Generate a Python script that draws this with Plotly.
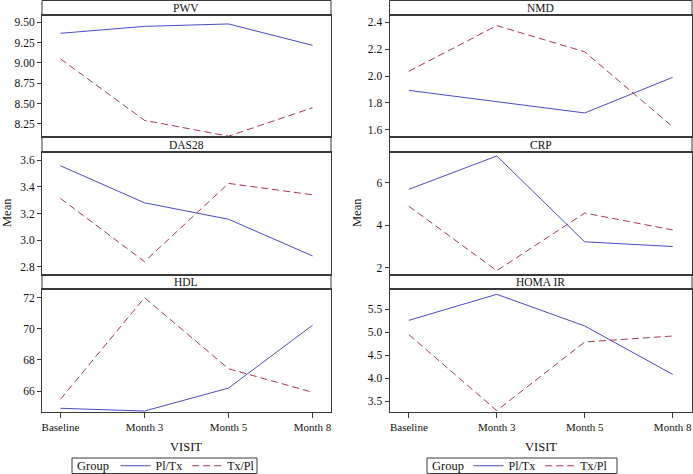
import plotly.graph_objects as go

visits = ["Baseline", "Month 3", "Month 5", "Month 8"]
groups = ["Pl/Tx", "Tx/Pl"]

panels = ["PWV", "NMD", "DAS28", "CRP", "HDL", "HOMA IR"]

pwv_pltx = [9.365, 9.45, 9.48, 9.217]
pwv_txpl = [9.05, 8.295, 8.10, 8.45]
nmd_pltx = [1.893, 1.81, 1.725, 1.99]
nmd_txpl = [2.035, 2.375, 2.18, 1.622]
das28_pltx = [3.557, 3.28, 3.157, 2.883]
das28_txpl = [3.313, 2.84, 3.425, 3.34]
crp_pltx = [5.70, 7.27, 3.22, 3.00]
crp_txpl = [4.90, 1.86, 4.58, 3.78]
hdl_pltx = [64.89, 64.71, 66.19, 70.23]
hdl_txpl = [65.47, 72.0, 67.43, 65.92]
homa_pltx = [5.26, 5.825, 5.137, 4.087]
homa_txpl = [4.95, 3.30, 4.79, 4.92]

series = {
    "PWV": (pwv_pltx, pwv_txpl),
    "NMD": (nmd_pltx, nmd_txpl),
    "DAS28": (das28_pltx, das28_txpl),
    "CRP": (crp_pltx, crp_txpl),
    "HDL": (hdl_pltx, hdl_txpl),
    "HOMA IR": (homa_pltx, homa_txpl),
}

# axis settings (range, tick spacing, format)
yspec = {
    "PWV": ([8.09, 9.59], 0.25, ".2f"),
    "NMD": ([1.546, 2.454], 0.2, ".1f"),
    "DAS28": ([2.74, 3.66], 0.2, ".1f"),
    "CRP": ([1.655, 7.46], 2, "d"),
    "HDL": ([64.65, 72.56], 2, "d"),
    "HOMA IR": ([3.27, 5.94], 0.5, ".1f"),
}

W, H = 693, 474
FONT = "Times New Roman, Liberation Serif, DejaVu Serif, serif"
BLUE = "#4b4bc8"
RED = "#a8384e"
FRAME = "#3a3a3a"
TXT = "#111111"

col_px = [(42, 331), (389.5, 692)]
row_px = [(15, 137), (152, 275), (289, 412)]
strip_px = [(0.5, 15), (137, 152), (275, 289)]
legend_box_px = [(72, 257), (427, 617)]
legend_items_center_px = [188, 541]
legend_y_px = (458, 473.5)

def px_x(p):
    return p / W

def px_y(p):
    return 1 - p / H

fig = go.Figure()
shapes = []
annotations = []

for i, name in enumerate(panels):
    r, c = divmod(i, 2)
    n = i + 1
    xa = "xaxis" if n == 1 else f"xaxis{n}"
    ya = "yaxis" if n == 1 else f"yaxis{n}"
    xr = "x" if n == 1 else f"x{n}"
    yr = "y" if n == 1 else f"y{n}"
    x0, x1 = col_px[c]
    y0, y1 = row_px[r]
    rng, dt, fmt = yspec[name]
    last_row = r == 2
    fig.update_layout(**{
        xa: dict(
            domain=[px_x(x0), px_x(x1)], anchor=yr, type="category",
            categoryorder="array", categoryarray=visits,
            range=[-0.22, 3.22], showgrid=False, zeroline=False,
            showline=True, mirror=True, linecolor=FRAME, linewidth=1,
            ticks="outside" if last_row else "", ticklen=5, tickcolor=FRAME,
            showticklabels=last_row,
            tickfont=dict(family=FONT, size=11, color=TXT),
        ),
        ya: dict(
            domain=[px_y(y1), px_y(y0)], anchor=xr, range=rng,
            dtick=dt, tick0=0, tickformat=fmt, showgrid=False, zeroline=False,
            showline=True, mirror=True, linecolor=FRAME, linewidth=1,
            ticks="outside", ticklen=4, tickcolor=FRAME,
            tickfont=dict(family=FONT, size=11.5, color=TXT),
        ),
    })
    leg = "legend" if c == 0 else "legend2"
    show = r == 0
    a, b = series[name]
    fig.add_trace(go.Scatter(
        x=visits, y=a, mode="lines", name=groups[0], xaxis=xr, yaxis=yr,
        line=dict(color=BLUE, width=1), legend=leg, showlegend=show,
        hoverinfo="skip",
    ))
    fig.add_trace(go.Scatter(
        x=visits, y=b, mode="lines", name=groups[1], xaxis=xr, yaxis=yr,
        line=dict(color=RED, width=1, dash="7px,4px"), legend=leg,
        showlegend=show, hoverinfo="skip",
    ))
    # strip header
    s0, s1 = strip_px[r]
    shapes.append(dict(type="rect", xref="paper", yref="paper",
                       x0=px_x(x0), x1=px_x(x1), y0=px_y(s1), y1=px_y(s0),
                       line=dict(color=FRAME, width=1), fillcolor="white",
                       layer="below"))
    shapes.append(dict(type="line", xref="paper", yref="paper",
                       x0=px_x(x0), x1=px_x(x1), y0=px_y(s1), y1=px_y(s1),
                       line=dict(color=FRAME, width=2)))
    shapes.append(dict(type="line", xref="paper", yref="paper",
                       x0=px_x(x0), x1=px_x(x1), y0=px_y(s0), y1=px_y(s0),
                       line=dict(color=FRAME, width=2 if r > 0 else 1)))
    annotations.append(dict(text=name, xref="paper", yref="paper",
                            x=px_x((x0 + x1) / 2), y=px_y((s0 + s1) / 2),
                            xanchor="center", yanchor="middle", showarrow=False,
                            font=dict(family=FONT, size=11.5, color=TXT)))

for c, xp in enumerate([7, 357]):
    annotations.append(dict(text="Mean", xref="paper", yref="paper",
                            x=px_x(xp), y=px_y(213), textangle=-90,
                            xanchor="center", yanchor="middle", showarrow=False,
                            font=dict(family=FONT, size=12.5, color=TXT)))
for c in range(2):
    x0, x1 = col_px[c]
    annotations.append(dict(text="VISIT", xref="paper", yref="paper",
                            x=px_x((x0 + x1) / 2), y=px_y(447),
                            xanchor="center", yanchor="middle", showarrow=False,
                            font=dict(family=FONT, size=12.5, color=TXT)))

# legend frames and "Group" labels
for lx0, lx1 in legend_box_px:
    shapes.append(dict(type="rect", xref="paper", yref="paper",
                       x0=px_x(lx0), x1=px_x(lx1),
                       y0=px_y(legend_y_px[1]), y1=px_y(legend_y_px[0]),
                       line=dict(color=FRAME, width=1), fillcolor="white",
                       layer="below"))
    annotations.append(dict(text="Group", xref="paper", yref="paper",
                            x=px_x(lx0 + 3), y=px_y((legend_y_px[0] + legend_y_px[1]) / 2),
                            xanchor="left", yanchor="middle", showarrow=False,
                            font=dict(family=FONT, size=12.5, color=TXT)))

legend_common = dict(
    orientation="h", xanchor="center", yanchor="middle",
    y=px_y((legend_y_px[0] + legend_y_px[1]) / 2),
    borderwidth=0, bgcolor="rgba(0,0,0,0)",
    font=dict(family=FONT, size=12, color=TXT),
    itemwidth=30, tracegroupgap=0,
)

fig.update_layout(
    width=W, height=H, margin=dict(l=0, r=0, t=0, b=0, autoexpand=False),
    paper_bgcolor="white", plot_bgcolor="white",
    shapes=shapes, annotations=annotations,
    legend=dict(x=px_x(legend_items_center_px[0]), **legend_common),
    legend2=dict(x=px_x(legend_items_center_px[1]), **legend_common),
    showlegend=True,
)

fig.write_html("out.html", config={"displayModeBar": False},
               post_script="document.body.style.margin='0';")
